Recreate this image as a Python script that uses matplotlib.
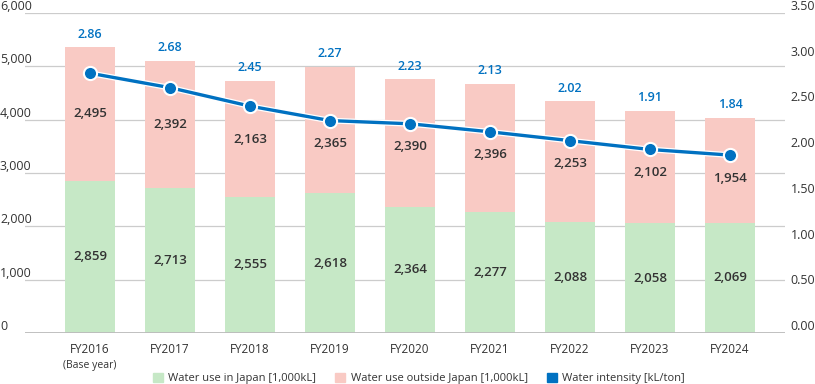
import matplotlib
matplotlib.use("Agg")
import matplotlib.pyplot as plt
import matplotlib.patheffects as pe
from matplotlib.patches import Patch
import numpy as np

plt.rcParams['font.family'] = ['Open Sans', 'DejaVu Sans']

years = ["FY2016", "FY2017", "FY2018", "FY2019", "FY2020", "FY2021", "FY2022", "FY2023", "FY2024"]
japan = [2859, 2713, 2555, 2618, 2364, 2277, 2088, 2058, 2069]
outside = [2495, 2392, 2163, 2365, 2390, 2396, 2253, 2102, 1954]
intensity = [2.86, 2.68, 2.45, 2.27, 2.23, 2.13, 2.02, 1.91, 1.84]
left_ticks = [0, 1000, 2000, 3000, 4000, 5000, 6000]
right_ticks = [0.0, 0.5, 1.0, 1.5, 2.0, 2.5, 3.0, 3.5]

GREEN = "#c6e8c6"
PINK = "#f9cac4"
BLUE = "#0071c1"
TXT = "#333333"

W, H = 815, 384
fig = plt.figure(figsize=(W / 100, H / 100), dpi=100)
rect = [25 / W, 1 - 333 / H, 760 / W, 320 / H]
ax = fig.add_axes(rect)
ax2 = ax.twinx()
ax3 = fig.add_axes(rect, sharex=ax)
ax3.patch.set_visible(False)
ax3.axis("off")

x = np.arange(len(years))
bw = 0.625
ax.bar(x, japan, bw, color=GREEN, zorder=2)
ax.bar(x, outside, bw, bottom=japan, color=PINK, zorder=2)

ax.set_xlim(-0.8125, 8.6875)
ax.set_ylim(0, 6000)
ax2.set_ylim(0, 3.5)
ax3.set_ylim(-0.376, 3.61)

ax3.plot(x, intensity, color=BLUE, lw=2.4, zorder=6,
         path_effects=[pe.Stroke(linewidth=4.2, foreground="white"), pe.Normal()])
ax3.plot(x, intensity, ls="none", marker="o", ms=9.5, mfc=BLUE,
         mec="white", mew=1.5, zorder=7)

BW = 600
for i in range(len(years)):
    ax.text(x[i], japan[i] / 2, f"{japan[i]:,}", ha="center", va="center",
            fontsize=9.5, fontweight=BW, color=TXT, zorder=5)
    # keep the outside label clear of the intensity line
    mid_disp = ax.transData.transform((x[i], japan[i] + outside[i] / 2))[1]
    line_disp = ax3.transData.transform((x[i], intensity[i]))[1]
    ydisp = min(mid_disp, line_disp - 23)
    ydata = ax.transData.inverted().transform((0, ydisp))[1]
    ax.text(x[i], ydata, f"{outside[i]:,}", ha="center", va="center",
            fontsize=9.5, fontweight=BW, color=TXT, zorder=5)
    ax.annotate(f"{intensity[i]:.2f}", (x[i], japan[i] + outside[i]), xytext=(0, 5),
                textcoords="offset points", ha="center", va="bottom",
                fontsize=9, fontweight=BW, color=BLUE, zorder=5)

ax.set_yticks(left_ticks)
ax.set_yticklabels([f"{v:,}" for v in left_ticks])
ax.grid(axis="y", color="#cccccc", lw=0.9, zorder=0)
ax.set_axisbelow(True)
ax.tick_params(axis="y", length=0, pad=25 * 0.72, labelsize=9, labelcolor=TXT)
for lab in ax.get_yticklabels():
    lab.set_ha("left")
    lab.set_va("bottom")
ax2.set_yticks(right_ticks)
ax2.set_yticklabels([f"{v:.2f}" for v in right_ticks])
ax2.tick_params(axis="y", length=0, pad=4, labelsize=9, labelcolor=TXT)
for lab in ax2.get_yticklabels():
    lab.set_va("bottom")

ax.set_xticks(x)
ax.set_xticklabels(years)
ax.tick_params(axis="x", length=0, pad=7, labelsize=8.5, labelcolor=TXT)
ax.annotate("(Base year)", (x[0], 0), xycoords=("data", "axes fraction"),
            xytext=(0, -19.5), textcoords="offset points", ha="center", va="top",
            fontsize=7.5, color=TXT)

for a in (ax, ax2):
    for s in ("top", "left", "right", "bottom"):
        a.spines[s].set_visible(False)
ax.axhline(0, color="#bbbbbb", lw=2, zorder=3)

handles = [Patch(color=GREEN), Patch(color=PINK), Patch(color=BLUE)]
labels = ["Water use in Japan [1,000kL]", "Water use outside Japan [1,000kL]",
          "Water intensity [kL/ton]"]
fig.legend(handles, labels, loc="lower center", bbox_to_anchor=(0.514, -0.027), ncol=3,
           frameon=False, fontsize=8, handlelength=0.9, handleheight=0.9,
           handletextpad=0.5, columnspacing=1.7, labelcolor=TXT)

fig.savefig("out.png", dpi=100)
